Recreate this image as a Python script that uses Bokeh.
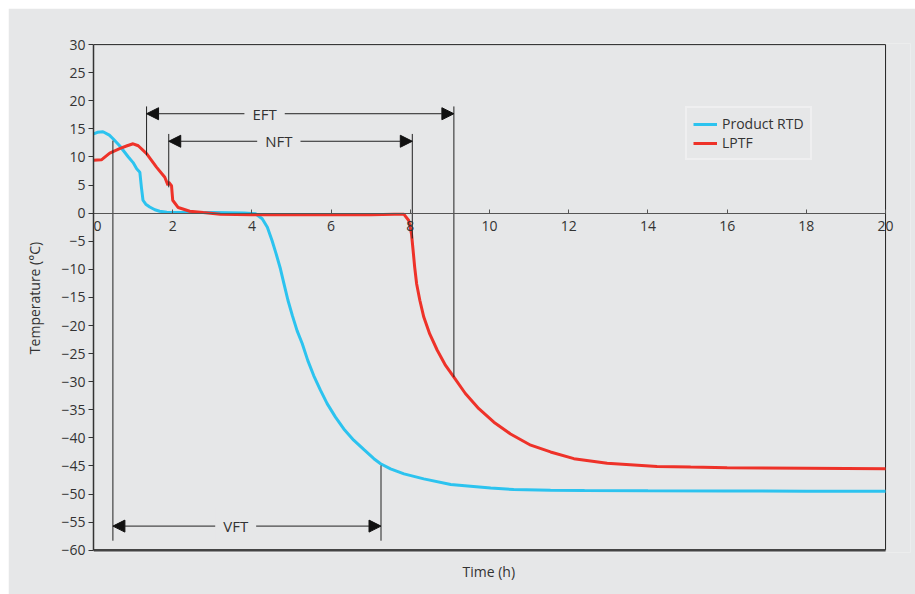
from bokeh.plotting import figure
from bokeh.models import (Range1d, FixedTicker, Arrow, NormalHead, Label, LabelSet,
                          Title, ColumnDataSource, Legend)
from bokeh.core.properties import value
from bokeh.embed import file_html
from bokeh.resources import INLINE

# ---- data ----
rtd_time = [0, 0.1, 0.24, 0.4, 0.5, 0.66, 0.88, 1.0, 1.09, 1.17, 1.21, 1.25, 1.32, 1.42,
            1.55, 1.67, 1.85, 2.0, 3.0, 3.8, 4.09, 4.26, 4.39, 4.51, 4.61, 4.72, 4.81, 4.91,
            5.02, 5.14, 5.27, 5.41, 5.56, 5.73, 5.90, 6.11, 6.32, 6.57, 6.83, 7.08, 7.25,
            7.50, 7.84, 8.34, 9.02, 9.52, 10.03, 10.61, 11.54, 12.4, 14.0, 16.0, 18.0, 20.0]
rtd_temp = [14.1, 14.4, 14.5, 13.9, 13.2, 12.0, 10.0, 9.0, 7.9, 7.3, 4.6, 2.3, 1.6, 1.1,
            0.6, 0.35, 0.15, 0.1, 0.1, 0.05, -0.1, -1.0, -2.5, -4.9, -7.2, -9.9, -12.6, -15.5,
            -18.2, -20.9, -23.2, -26.2, -28.9, -31.5, -33.9, -36.3, -38.4, -40.4, -42.1, -43.7,
            -44.6, -45.5, -46.4, -47.3, -48.3, -48.6, -48.9, -49.2, -49.3, -49.35, -49.4,
            -49.45, -49.5, -49.5]

lptf_time = [0, 0.2, 0.41, 0.66, 0.85, 1.0, 1.13, 1.34, 1.59, 1.80, 1.88, 1.90, 1.97, 2.0,
             2.14, 2.43, 2.77, 3.2, 4.0, 5.0, 6.0, 7.0, 7.6, 7.84, 7.96, 8.03, 8.07, 8.11,
             8.16, 8.24, 8.34, 8.49, 8.68, 8.89, 9.10, 9.39, 9.73, 10.11, 10.53, 11.04, 11.54,
             12.13, 12.97, 14.23, 15.08, 16.0, 18.0, 20.0]
lptf_temp = [9.4, 9.5, 10.7, 11.5, 12.0, 12.35, 12.0, 10.6, 8.2, 6.4, 5.0, 5.5, 4.9, 2.3,
             1.0, 0.35, 0.1, -0.2, -0.3, -0.3, -0.3, -0.3, -0.2, -0.2, -1.3, -3.7, -6.6, -9.6,
             -12.6, -15.5, -18.5, -21.5, -24.4, -27.1, -29.2, -32.1, -34.8, -37.2, -39.3, -41.3,
             -42.5, -43.7, -44.5, -45.1, -45.2, -45.3, -45.4, -45.5]

x_ticks = [0, 2, 4, 6, 8, 10, 12, 14, 16, 18, 20]
y_ticks = [-60, -55, -50, -45, -40, -35, -30, -25, -20, -15, -10, -5, 0, 5, 10, 15, 20, 25, 30]
X_MIN, X_MAX = 0, 20
Y_MIN, Y_MAX = -60, 30

# annotation intervals: name, start time, end time, arrow level
interval_names = ["EFT", "NFT", "VFT"]
interval_start = [1.34, 1.90, 0.49]
interval_end = [9.10, 8.05, 7.26]
interval_level = [17.7, 12.8, -55.7]
interval_label_x = [4.32, 4.68, 3.59]
# marker line extents (start line bottom/top, end line bottom/top)
start_line_bottom = [10.3, 4.6, -58.3]
start_line_top = [19.0, 14.1, 12.9]
end_line_bottom = [-29.2, -4.5, -58.3]
end_line_top = [19.0, 14.1, -44.9]

BG = "#e6e7e8"
CYAN = "#2cc3ef"
RED = "#ee3229"
TXT = "#333333"
FONT = "Open Sans"

# frame is slightly larger than the data area so the edge tick labels are not clipped
p = figure(width=907, height=586, output_backend="svg", toolbar_location=None,
           x_range=Range1d(X_MIN, X_MAX + 0.63), y_range=Range1d(Y_MIN - 0.4, Y_MAX + 0.2),
           min_border_left=85, min_border_right=5, min_border_top=35, min_border_bottom=42)
p.margin = (8, 0, 0, 8)
p.background_fill_color = BG
p.border_fill_color = BG
p.outline_line_color = None
p.grid.visible = False

# x axis at y = 0
p.xaxis.fixed_location = 0
p.xaxis.bounds = (X_MIN, X_MAX)
p.xaxis.ticker = FixedTicker(ticks=x_ticks)
p.xaxis.axis_line_color = "#555555"
p.xaxis.axis_line_width = 1.2
p.xaxis.major_tick_in = 4
p.xaxis.major_tick_out = 0
p.xaxis.major_tick_line_color = "#555555"
p.xaxis.minor_tick_line_color = None
p.xaxis.major_label_text_alpha = 0

p.yaxis.bounds = (Y_MIN, Y_MAX)
p.yaxis.ticker = FixedTicker(ticks=y_ticks)
p.yaxis.axis_line_color = "#333333"
p.yaxis.axis_line_width = 1.5
p.yaxis.major_tick_in = 0
p.yaxis.major_tick_out = 5
p.yaxis.major_tick_line_color = "#333333"
p.yaxis.minor_tick_line_color = None
p.yaxis.major_label_standoff = 3
p.yaxis.major_label_text_font = FONT
p.yaxis.major_label_text_font_size = "14px"
p.yaxis.major_label_text_color = TXT
p.yaxis.axis_label = "Temperature (°C)"
p.yaxis.axis_label_text_font = FONT
p.yaxis.axis_label_text_font_size = "14px"
p.yaxis.axis_label_text_font_style = "normal"
p.yaxis.axis_label_text_color = TXT
p.yaxis.axis_label_standoff = 14

# frame border: top and right thin, bottom thick
p.segment(x0=[X_MIN, X_MAX], y0=[Y_MAX, Y_MIN], x1=[X_MAX, X_MAX], y1=[Y_MAX, Y_MAX],
          line_color="#222222", line_width=1)
p.segment(x0=[X_MIN], y0=[Y_MIN], x1=[X_MAX], y1=[Y_MIN], line_color="#444444", line_width=2.5)

# x tick labels
xlab_src = ColumnDataSource(dict(x=x_ticks, y=[0] * len(x_ticks), t=[str(v) for v in x_ticks],
                                 xo=[4 if v == X_MIN else 0 for v in x_ticks]))
p.add_layout(LabelSet(x="x", y="y", text="t", source=xlab_src, x_offset="xo",
                      text_align="center", text_baseline="top", y_offset=-8,
                      text_font=value(FONT), text_font_size="14px", text_color=TXT))

# curves
r1 = p.line(rtd_time, rtd_temp, line_color=CYAN, line_width=3)
r2 = p.line(lptf_time, lptf_temp, line_color=RED, line_width=3)

legend = Legend(items=[("Product RTD", [r1]), ("LPTF", [r2])], location=(592, 392))
legend.background_fill_color = BG
legend.border_line_color = "#f8f8f8"
legend.border_line_width = 2
legend.label_text_font = FONT
legend.label_text_font_size = "14px"
legend.label_text_color = TXT
legend.glyph_width = 24
legend.glyph_height = 16
legend.spacing = 0
legend.padding = 6
legend.margin = 0
p.add_layout(legend)

# marker lines
seg = ColumnDataSource(dict(
    x0=interval_start + interval_end,
    y0=start_line_bottom + end_line_bottom,
    x1=interval_start + interval_end,
    y1=start_line_top + end_line_top))
p.segment(x0="x0", y0="y0", x1="x1", y1="y1", source=seg, line_color="#222222", line_width=1)

for name, xs, xe, lvl, lx in zip(interval_names, interval_start, interval_end,
                                 interval_level, interval_label_x):
    p.add_layout(Arrow(x_start=xs, y_start=lvl, x_end=xe, y_end=lvl,
                       line_color="#222222", line_width=1,
                       start=NormalHead(size=12, fill_color="#111111", line_color="#111111"),
                       end=NormalHead(size=12, fill_color="#111111", line_color="#111111")))
    p.add_layout(Label(x=lx, y=lvl, text=name, text_align="center", text_baseline="middle",
                       text_font=FONT, text_font_size="15px", text_color=TXT,
                       background_fill_color=BG, padding=8))

p.add_layout(Title(text="Time (h)", align="left", offset=369, text_font=FONT,
                   text_font_size="14px", text_font_style="normal", text_color=TXT,
                   standoff=14), "below")

open("out.html", "w").write(file_html(p, INLINE))
